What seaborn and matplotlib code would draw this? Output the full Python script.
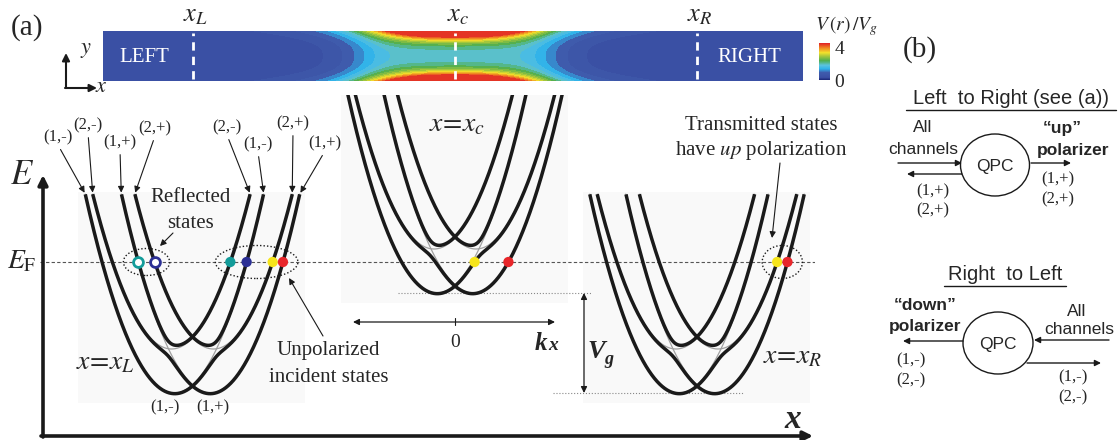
import numpy as np
import matplotlib
matplotlib.use("Agg")
import matplotlib.pyplot as plt
import matplotlib.transforms as mtransforms
from matplotlib.colors import LinearSegmentedColormap, Normalize
from matplotlib.cm import ScalarMappable
from matplotlib.patches import Ellipse, Rectangle
import seaborn as sns

# band model of the three cuts (arbitrary units)
subband_bottom = [0.0, 0.44]      # E1, E2
spin_shift = [0.18, 0.21]         # k offset of the (n,-) / (n,+) parabolas
band_curvature = 2.5
spin_mixing = 0.075               # couples (1,-)<->(2,+) and (1,+)<->(2,-)
band_top = 1.99
panel_x = [0.0, 2.625, 5.045]     # x_L, x_c, x_R
panel_shift = [0.0, 1.0, 0.0]     # band bottom raised by V_g at x_c
panel_tag = ["L", "c", "R"]
fermi_level = 1.31

# coloured states sitting on E_F
teal, navy, yellow, red = "#139c9a", "#2b2f94", "#f6e51b", "#e8262a"
state_panel = [0, 0, 0, 0, 0, 0, 1, 1, 2, 2]
state_branch = ["upB", "upA", "upB", "upA", "lowA", "lowB", "lowA", "lowB", "lowA", "lowB"]
state_side = [-1, -1, 1, 1, 1, 1, 1, 1, 1, 1]
state_color = [teal, navy, teal, navy, yellow, red, yellow, red, yellow, red]
state_filled = [False, False, True, True, True, True, True, True, True, True]

# labels of the band ends at x_L
end_label = ["(1,-)", "(2,-)", "(1,+)", "(2,+)", "(2,-)", "(1,-)", "(2,+)", "(1,+)"]
end_side = [-1, -1, -1, -1, 1, 1, 1, 1]
end_text_px = [(58, 137), (88, 125), (120, 142), (155, 128),
               (227, 127), (258, 144), (293, 123), (325, 143)]

# gate potential of the strip: saddle term + side-gate term
V_background = 0.28
V_saddle = 1.6
V_side = 5.3
saddle_halfwidth, saddle_power = 0.97, 6
side_halfwidth, side_power = 0.68, 3
edge_power = 2.9
V_max = 4.5
cmap_nodes = [0.0, 0.07, 0.2, 0.3, 0.4, 0.52, 0.64, 0.74, 0.86, 1.0]
cmap_colors = ["#1b2777", "#3a4fa3", "#3f5cad", "#2fb2ea", "#5cc3de",
               "#4fae4f", "#a4c63c", "#f3e22b", "#f08b22", "#e11f26"]

sns.set_theme(style="white")
plt.rcParams["font.family"] = ["Liberation Serif", "DejaVu Serif"]
plt.rcParams["mathtext.fontset"] = "stix"

W, H = 1118, 440
fig = plt.figure(figsize=(W / 100, H / 100), dpi=100)


def frac(x0, y0, x1, y1):
    return [x0 / W, 1 - y1 / H, (x1 - x0) / W, (y1 - y0) / H]


# transparent pixel canvas on top of everything, for text and arrows
ax_c = fig.add_axes([0, 0, 1, 1])
ax_c.set_xlim(0, W)
ax_c.set_ylim(H, 0)
ax_c.axis("off")
ax_c.set_zorder(10)


def put(x, y, s, size, **kw):
    kw.setdefault("ha", "center")
    kw.setdefault("va", "center")
    ax_c.text(x, y, s, fontsize=size, **kw)


def arrow(ax, tail, tip, style="-|>", lw=0.8, ms=9, **kw):
    ax.annotate("", xy=tip, xytext=tail,
                arrowprops=dict(arrowstyle=style, color="k", lw=lw, mutation_scale=ms,
                                shrinkA=0, shrinkB=0), **kw)


# ---------- potential strip ----------
ax_s = fig.add_axes(frac(103, 31, 803, 81))
xs = np.linspace((103 - 192.5) / 100, (803 - 192.5) / 100, 700)
ys = np.linspace(-1, 1, 121)
X, Y = np.meshgrid(xs, ys)
g_saddle = 1 / (1 + (np.abs(X - panel_x[1]) / saddle_halfwidth) ** saddle_power)
g_side = 1 / (1 + (np.abs(X - panel_x[1]) / side_halfwidth) ** side_power)
V = V_background + V_saddle * g_saddle + V_side * g_side * np.abs(Y) ** edge_power
V = np.clip(V, 0, V_max)
cmap = LinearSegmentedColormap.from_list("qpc", list(zip(cmap_nodes, cmap_colors)))
ax_s.contourf(X, Y, V, levels=np.linspace(0, V_max, 19), cmap=cmap, vmin=0, vmax=V_max)
for px in panel_x:
    ax_s.plot([px, px], [-0.92, 0.92], color="white", lw=2, dashes=(3, 2.2))
ax_s.set_xlim(xs[0], xs[-1])
ax_s.set_ylim(-1, 1)
ax_s.axis("off")
strip_tr = mtransforms.blended_transform_factory(ax_s.transData, ax_c.transData)
for px, tag in zip(panel_x, panel_tag):
    ax_c.text(px + 0.03, 16, rf"$x_{{{tag}}}$", transform=strip_tr, fontsize=19,
              ha="center", va="center")
put(144, 57, "LEFT", 15, color="white")
put(749, 57, "RIGHT", 15, color="white")

cax = fig.add_axes(frac(819, 43, 830, 80))
cb = fig.colorbar(ScalarMappable(norm=Normalize(0, V_max), cmap=cmap), cax=cax)
cb.set_ticks([0, 4])
cb.outline.set_visible(False)
cax.tick_params(labelsize=14, length=0, pad=3)
put(846, 26, r"$V\,(r)\,/V_g$", 14)

# coordinate icon
arrow(ax_c, (66, 88), (66, 53), lw=1.5, ms=11)
arrow(ax_c, (65, 88), (97, 88), lw=1.5, ms=11)
put(86, 51, r"$y$", 16)
put(101, 88, r"$x$", 16)

put(27, 28, "(a)", 21)
put(920, 50, "(b)", 21)

# ---------- band structure ----------
ax_b = fig.add_axes(frac(40, 95, 815, 440))
ax_b.set_facecolor("none")
ax_b.set_xlim((40 - 192.5) / 100, (815 - 192.5) / 100)
ax_b.set_ylim((393 - 440) / 100, (393 - 95) / 100)
ax_b.axis("off")

k = np.linspace(-1.3, 1.3, 2601)


def parabola(n, s):
    return subband_bottom[n] + band_curvature * (k - s * spin_shift[n]) ** 2


def branches():
    out = {}
    for name, (d1, d2) in {"A": (parabola(0, -1), parabola(1, 1)),
                           "B": (parabola(0, 1), parabola(1, -1))}.items():
        m = (d1 + d2) / 2
        r = np.sqrt(((d1 - d2) / 2) ** 2 + spin_mixing ** 2)
        out["low" + name] = m - r
        out["up" + name] = m + r
    return out


bands = branches()
grey = [parabola(0, -1), parabola(0, 1), parabola(1, -1), parabola(1, 1)]


def crossing(E, level, side):
    msk = side * k > 0
    kk, ee = np.abs(k[msk]), E[msk]
    o = np.argsort(kk)
    kk, ee = kk[o], ee[o]
    i = np.where(ee < level)[0][-1]
    t = (level - ee[i]) / (ee[i + 1] - ee[i])
    return side * (kk[i] + t * (kk[i + 1] - kk[i]))


for p, (x0, e0) in enumerate(zip(panel_x, panel_shift)):
    ax_b.add_patch(Rectangle((x0 - 1.145, e0 - 0.10), 2.27, 2.11, facecolor="#f9f9f9",
                             edgecolor="none", zorder=0))
    for E in grey:
        m = E <= band_top
        sns.lineplot(x=k[m] + x0, y=E[m] + e0, ax=ax_b, color="#a0a0a0", lw=0.9,
                     estimator=None, sort=False, zorder=2)
    for E in bands.values():
        m = E <= band_top
        sns.lineplot(x=k[m] + x0, y=E[m] + e0, ax=ax_b, color="#1a1a1a", lw=2.5,
                     estimator=None, sort=False, zorder=3, solid_capstyle="butt")

ax_b.axhline(fermi_level, color="#555555", lw=0.8, dashes=(3, 2), zorder=1)

# states on E_F and their dotted ellipses
state_k = []
for p, b, sd, col, fill in zip(state_panel, state_branch, state_side, state_color, state_filled):
    kx = panel_x[p] + crossing(bands[b], fermi_level - panel_shift[p], sd)
    state_k.append(kx)
    if fill:
        sns.scatterplot(x=[kx], y=[fermi_level], ax=ax_b, color=col, s=55,
                        edgecolor="none", zorder=5)
    else:
        ax_b.scatter([kx], [fermi_level], s=50, facecolor="white", edgecolor=col,
                     linewidth=2, zorder=5)
for grp, h in [([0, 1], 0.27), ([2, 3, 4, 5], 0.33), ([8, 9], 0.33)]:
    kk = [state_k[i] for i in grp]
    ax_b.add_patch(Ellipse(((min(kk) + max(kk)) / 2, fermi_level), max(kk) - min(kk) + 0.3, h,
                           fill=False, edgecolor="k", lw=1.0, ls=(0, (1, 1.5)), zorder=4))

# labelled band ends at x_L
for lab, sd, (tx, ty) in zip(end_label, end_side, end_text_px):
    n = int(lab[1]) - 1
    s = 1 if "+" in lab else -1
    k_end = panel_x[0] + s * spin_shift[n] + sd * np.sqrt((band_top - subband_bottom[n]) / band_curvature)
    ax_b.annotate(lab, xy=(k_end, band_top + panel_shift[0]), xytext=(tx, ty),
                  textcoords=ax_c.transData, ha="center", va="center", fontsize=12,
                  arrowprops=dict(arrowstyle="-|>", color="k", lw=0.8, mutation_scale=9,
                                  shrinkA=1, shrinkB=1, relpos=(0.5, 0)))

# V_g and k_x markers
vg_x = (584 - 192.5) / 100
arrow(ax_b, (vg_x, panel_shift[0]), (vg_x, panel_shift[1]), style="<|-|>", lw=0.9)
ax_b.plot([(398 - 192.5) / 100, (592 - 192.5) / 100], [panel_shift[1]] * 2, color="#888888",
          lw=0.8, ls=":")
ax_b.plot([(553 - 192.5) / 100, (743 - 192.5) / 100], [panel_shift[0]] * 2, color="#888888",
          lw=0.8, ls=":")
kx_level = 0.71
arrow(ax_b, ((353 - 192.5) / 100, kx_level), ((555 - 192.5) / 100, kx_level), style="<|-|>", lw=0.9)
ax_b.plot([panel_x[1]] * 2, [kx_level - 0.03, kx_level + 0.04], color="k", lw=0.8)
ax_b.text(panel_x[1], kx_level - 0.2, "0", fontsize=14, ha="center", va="center")

fermi_tr = mtransforms.blended_transform_factory(ax_c.transData, ax_b.transData)
ax_c.text(22, fermi_level, r"$E_{\mathrm{F}}$", transform=fermi_tr, fontsize=20,
          ha="center", va="center")

# axes of panel (a)
arrow(ax_c, (43, 437), (43, 175), lw=2.6, ms=14)
arrow(ax_c, (41, 436), (813, 436), lw=2.6, ms=14)
put(22, 175, r"$E$", 25)
put(793, 420, "x", 24, fontweight="bold", fontstyle="italic")
put(541, 343, "k", 18, fontweight="bold", fontstyle="italic")
put(553, 346, "x", 14, fontweight="bold", fontstyle="italic")
put(596, 352, "V", 19, fontweight="bold", fontstyle="italic")
put(609, 360, "g", 13, fontweight="bold", fontstyle="italic")

put(105, 363, r"$x\!=\!x_L$", 20)
put(457, 125, r"$x\!=\!x_c$", 20)
put(793, 357, r"$x\!=\!x_R$", 20)
put(165, 407, "(1,-)", 12)
put(213, 407, "(1,+)", 12)

put(191, 197, "Reflected", 15)
put(191, 223, "states", 15)
arrow(ax_c, (173, 233), (160, 246), lw=0.8)
put(328, 350, "Unpolarized", 15)
put(329, 377, "incident states", 15)
arrow(ax_c, (323, 336), (289, 278), lw=0.8)
put(761, 125, "Transmitted states", 15)
put(761, 151, r"have $\mathit{up}$ polarization", 15)
arrow(ax_c, (780, 163), (772, 238), lw=0.8)

# ---------- panel (b) ----------
sans = "Liberation Sans"
put(1011, 98, "Left  to Right (see (a))", 14.5, family=sans)
ax_c.plot([906, 1116], [110, 110], color="k", lw=1)
put(923, 128, "All", 12.5, family=sans)
put(923, 150, "channels", 12.5, family=sans)
put(1062, 128, "\u201cup\u201d", 12.5, family=sans, fontweight="bold")
put(1073, 150, "polarizer", 12.5, family=sans, fontweight="bold")
ax_c.add_patch(Ellipse((995, 165), 69, 62, fill=False, edgecolor="k", lw=1))
put(995, 167, "QPC", 12.5, family=sans)
arrow(ax_c, (898, 163), (962, 163), lw=1)
arrow(ax_c, (962, 174), (907, 174), lw=1)
arrow(ax_c, (1031, 163), (1071, 163), lw=1)
put(933, 191, "(1,+)", 12)
put(933, 210, "(2,+)", 12)
put(1058, 179, "(1,+)", 12)
put(1058, 199, "(2,+)", 12)

put(1005, 275, "Right  to Left", 14.5, family=sans)
ax_c.plot([944, 1066], [286, 286], color="k", lw=1)
put(925, 305, "\u201cdown\u201d", 12.5, family=sans, fontweight="bold")
put(925, 327, "polarizer", 12.5, family=sans, fontweight="bold")
put(1077, 311, "All", 12.5, family=sans)
put(1079, 330, "channels", 12.5, family=sans)
ax_c.add_patch(Ellipse((998, 343), 70, 62, fill=False, edgecolor="k", lw=1))
put(998, 345, "QPC", 12.5, family=sans)
arrow(ax_c, (1109, 340), (1034, 340), lw=1)
arrow(ax_c, (963, 341), (903, 341), lw=1)
arrow(ax_c, (1027, 363), (1101, 363), lw=1)
put(911, 360, "(1,-)", 12)
put(911, 380, "(2,-)", 12)
put(1073, 377, "(1,-)", 12)
put(1073, 397, "(2,-)", 12)

fig.savefig("out.png", dpi=100)
